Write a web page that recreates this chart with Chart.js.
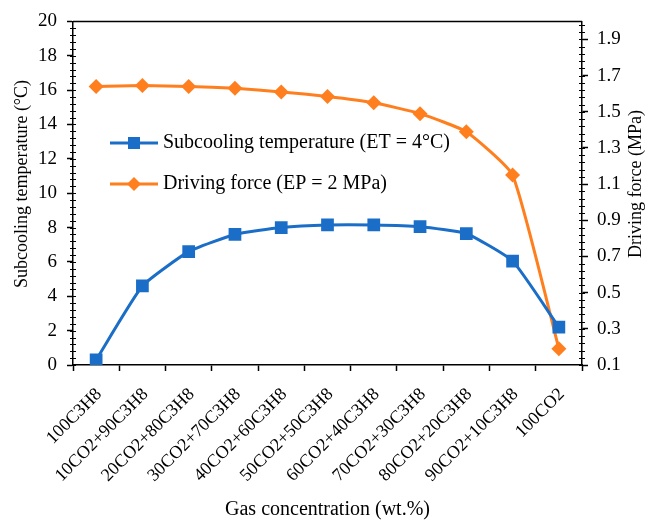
<!DOCTYPE html>
<html>
<head>
<meta charset="utf-8">
<script src="https://cdn.jsdelivr.net/npm/chart.js@4.4.1/dist/chart.umd.min.js"></script>
<style>
body{margin:0;background:#fff;}
</style>
</head>
<body>
<canvas id="gasChart" width="653" height="520"></canvas>
<script>
// -------- data --------
const categories = [
    "100C3H8", "10CO2+90C3H8", "20CO2+80C3H8", "30CO2+70C3H8",
    "40CO2+60C3H8", "50CO2+50C3H8", "60CO2+40C3H8", "70CO2+30C3H8",
    "80CO2+20C3H8", "90CO2+10C3H8", "100CO2"
];
const subcooling = [0.3, 4.6, 6.6, 7.6, 8.0, 8.15, 8.15, 8.05, 7.65, 6.05, 2.2];
const drivingForce = [1.64, 1.645, 1.64, 1.63, 1.61, 1.585, 1.55, 1.49, 1.39, 1.15, 0.19];
const leftTicks = [0, 2, 4, 6, 8, 10, 12, 14, 16, 18, 20];
const rightTicks = [0.1, 0.3, 0.5, 0.7, 0.9, 1.1, 1.3, 1.5, 1.7, 1.9];

const BLUE = "#1b6ec8";
const ORANGE = "#ff7f1f";
const FONT = "'Liberation Serif', 'Times New Roman', serif";

// -------- frame, minor ticks, axis titles and legend --------
function drawVerticalTitle(ctx, text, x, y){
    ctx.save();
    ctx.translate(x, y);
    ctx.rotate(-Math.PI / 2);
    ctx.fillText(text, 0, 0);
    ctx.restore();
}

const framePlugin = {
    id: "frame",
    afterDraw(chart){
        const ctx = chart.ctx;
        const a = chart.chartArea;
        const yL = chart.scales.y;
        const yR = chart.scales.y1;

        ctx.save();
        ctx.strokeStyle = "#000";
        ctx.lineWidth = 1.5;
        ctx.beginPath();
        ctx.moveTo(a.left, a.top);
        ctx.lineTo(a.right, a.top);
        ctx.stroke();

        // minor ticks
        ctx.lineWidth = 1;
        ctx.beginPath();
        for(let v = 0; v <= 20.001; v += 0.4){
            let py = Math.round(yL.getPixelForValue(v)) + 0.5;
            ctx.moveTo(a.left - 3, py);
            ctx.lineTo(a.left + 3, py);
        }
        for(let v = 0.1; v <= 2.0001; v += 0.04){
            let py = Math.round(yR.getPixelForValue(v)) + 0.5;
            ctx.moveTo(a.right - 3, py);
            ctx.lineTo(a.right + 3, py);
        }
        ctx.stroke();

        // y axis titles, both reading bottom to top
        ctx.font = "18px " + FONT;
        ctx.fillStyle = "#000";
        ctx.textAlign = "center";
        ctx.textBaseline = "middle";
        drawVerticalTitle(ctx, "Subcooling temperature (°C)", 22, 184);
        drawVerticalTitle(ctx, "Driving force (MPa)", 636, 184);

        // legend
        const items = [
            {text: "Subcooling temperature (ET = 4°C)", color: BLUE, shape: "square", y: 143},
            {text: "Driving force (EP = 2 MPa)", color: ORANGE, shape: "diamond", y: 184}
        ];
        ctx.font = "20px " + FONT;
        ctx.textAlign = "left";
        for(let i = 0; i < items.length; i++){
            let it = items[i];
            ctx.strokeStyle = it.color;
            ctx.fillStyle = it.color;
            ctx.lineWidth = 3;
            ctx.beginPath();
            ctx.moveTo(110, it.y);
            ctx.lineTo(158, it.y);
            ctx.stroke();
            ctx.beginPath();
            if(it.shape === "square"){
                ctx.rect(134 - 6, it.y - 6, 12, 12);
            } else {
                ctx.moveTo(134, it.y - 7);
                ctx.lineTo(141, it.y);
                ctx.lineTo(134, it.y + 7);
                ctx.lineTo(127, it.y);
                ctx.closePath();
            }
            ctx.fill();
            ctx.fillStyle = "#000";
            ctx.fillText(it.text, 163, it.y);
        }
        ctx.restore();
    }
};

window.onload = function(){

    const ctx = document.getElementById("gasChart").getContext("2d");

    new Chart(ctx, {
        type: "line",
        data: {
            labels: categories,
            datasets: [{
                label: "Subcooling temperature (ET = 4°C)",
                data: subcooling,
                yAxisID: "y",
                borderColor: BLUE,
                backgroundColor: BLUE,
                borderWidth: 3,
                pointStyle: "rect",
                pointRadius: 9,
                pointHoverRadius: 9,
                pointBorderWidth: 0,
                tension: 0.15
            }, {
                label: "Driving force (EP = 2 MPa)",
                data: drivingForce,
                yAxisID: "y1",
                borderColor: ORANGE,
                backgroundColor: ORANGE,
                borderWidth: 3,
                pointStyle: "rectRot",
                pointRadius: 7.5,
                pointHoverRadius: 7.5,
                pointBorderWidth: 0,
                tension: 0.15
            }]
        },
        options: {
            responsive: false,
            animation: false,
            layout: {padding: {top: 21}},
            plugins: {
                legend: {display: false},
                tooltip: {enabled: false}
            },
            scales: {
                x: {
                    offset: true,
                    grid: {
                        offset: true,
                        drawOnChartArea: false,
                        tickLength: 6,
                        tickColor: "#000",
                        tickWidth: 1.5
                    },
                    border: {color: "#000", width: 1.5},
                    ticks: {
                        color: "#000",
                        font: {family: FONT, size: 18},
                        minRotation: 45,
                        maxRotation: 45,
                        autoSkip: false,
                        padding: 13,
                        labelOffset: 3
                    },
                    title: {
                        display: true,
                        text: "Gas concentration (wt.%)",
                        color: "#000",
                        font: {family: FONT, size: 20},
                        padding: {top: 0, bottom: -2}
                    },
                    afterFit(scale){ scale.height = 155; }
                },
                y: {
                    position: "left",
                    min: 0,
                    max: 20,
                    afterBuildTicks(scale){ scale.ticks = leftTicks.map(v => ({value: v})); },
                    grid: {
                        drawOnChartArea: false,
                        tickLength: 6,
                        tickColor: "#000",
                        tickWidth: 1.5
                    },
                    border: {color: "#000", width: 1.5},
                    ticks: {
                        color: "#000",
                        font: {family: FONT, size: 19},
                        padding: 10
                    },
                    afterFit(scale){ scale.width = 73; }
                },
                y1: {
                    position: "right",
                    min: 0.1,
                    max: 2.0,
                    afterBuildTicks(scale){ scale.ticks = rightTicks.map(v => ({value: v})); },
                    grid: {
                        drawOnChartArea: false,
                        tickLength: 6,
                        tickColor: "#000",
                        tickWidth: 1.5
                    },
                    border: {color: "#000", width: 1.5},
                    ticks: {
                        color: "#000",
                        font: {family: FONT, size: 19},
                        padding: 9,
                        callback: function(value){ return Number(value).toFixed(1); }
                    },
                    afterFit(scale){ scale.width = 71; }
                }
            }
        },
        plugins: [framePlugin]
    });

};
</script>
</body>
</html>
